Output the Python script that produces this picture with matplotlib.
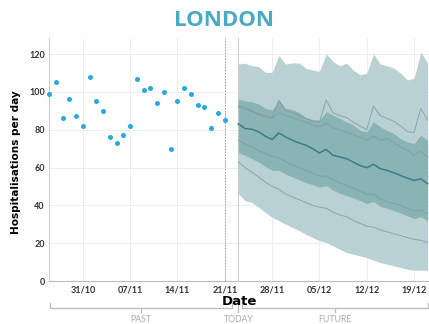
import numpy as np
import pandas as pd
import matplotlib
matplotlib.use("Agg")
import matplotlib.pyplot as plt
import matplotlib.dates as mdates
import matplotlib.transforms as mtransforms

# observed daily admissions
past_dates = pd.date_range("2021-10-26", "2021-11-21", freq="D")
past_values = [99, 105, 86, 96, 87, 82, 108, 95, 90, 76, 73, 77, 82, 107,
               101, 102, 94, 100, 70, 95, 102, 99, 93, 92, 81, 89, 85]

# forecast quantiles from today onwards
future_dates = pd.date_range("2021-11-23", "2021-12-21", freq="D")
q05 = [46.1, 42.5, 41.6, 39.0, 36.3, 33.7, 31.9, 30.1, 28.4, 26.6, 24.8, 23.0,
       21.3, 20.4, 18.6, 16.8, 15.1, 14.2, 13.3, 12.4, 11.0, 9.7, 8.9, 8.0,
       7.1, 6.2, 5.7, 5.7, 5.7]
q95 = [114.7, 115.2, 113.8, 113.4, 110.4, 110.4, 119.3, 114.7, 115.4, 115.2,
       112.5, 111.6, 110.8, 120.1, 116.1, 113.8, 115.2, 111.6, 109.0, 109.9,
       120.1, 114.7, 113.8, 112.5, 109.9, 106.3, 107.2, 121.0, 115.2]
q25 = [67.9, 66.5, 64.7, 62.9, 60.6, 58.5, 58.5, 56.5, 55.0, 53.5, 52.0, 51.0,
       49.6, 50.5, 48.0, 46.5, 45.2, 44.0, 42.5, 41.0, 42.0, 39.5, 38.5, 37.2,
       36.0, 34.5, 33.0, 34.0, 31.9]
q75 = [96.2, 95.2, 94.8, 93.6, 91.3, 90.4, 95.7, 91.3, 90.7, 89.0, 86.5, 85.4,
       85.1, 89.5, 87.7, 86.0, 84.2, 82.4, 79.7, 78.9, 84.2, 81.5, 79.7, 78.0,
       75.3, 73.5, 72.7, 77.1, 74.4]
median = [83.1, 80.6, 80.3, 78.9, 76.6, 74.8, 78.3, 76.2, 74.4, 73.0, 71.8,
          70.0, 67.7, 69.6, 66.5, 65.6, 64.7, 62.9, 61.1, 59.9, 61.7, 59.4,
          58.5, 57.2, 55.8, 54.4, 53.2, 54.0, 51.4]
q90 = [92.5, 92.0, 90.0, 88.5, 87.5, 86.5, 95.5, 90.0, 89.0, 87.5, 86.0, 84.5,
       84.0, 95.7, 89.0, 87.5, 86.5, 84.0, 82.0, 80.0, 92.5, 87.5, 86.0, 84.5,
       82.0, 79.0, 78.5, 91.3, 85.0]
q60 = [92.0, 91.0, 89.5, 88.0, 86.5, 86.0, 89.0, 87.5, 86.5, 85.0, 84.0, 82.5,
       81.5, 83.5, 81.0, 80.0, 78.5, 77.5, 76.0, 74.5, 76.5, 74.4, 75.3, 73.2,
       70.9, 69.1, 66.5, 68.6, 65.6]
q40 = [74.4, 72.5, 70.9, 69.0, 67.5, 66.0, 65.0, 63.0, 61.5, 60.0, 58.5, 57.0,
       55.5, 55.5, 53.5, 52.0, 50.5, 49.0, 47.5, 46.0, 46.0, 43.5, 42.0, 41.0,
       40.0, 38.5, 37.0, 37.5, 35.5]
q10 = [62.9, 60.0, 57.6, 55.0, 52.3, 50.0, 48.5, 46.0, 44.5, 43.0, 41.5, 40.0,
       39.0, 38.5, 36.5, 35.0, 34.0, 32.0, 30.5, 29.0, 28.5, 27.0, 26.0, 25.0,
       24.0, 23.0, 22.0, 21.5, 20.4]

tick_dates = pd.to_datetime(["2021-10-31", "2021-11-07", "2021-11-14", "2021-11-21",
                             "2021-11-28", "2021-12-05", "2021-12-12", "2021-12-19"])
last_obs = pd.Timestamp("2021-11-21")
today = pd.Timestamp("2021-11-23")

plt.rcParams["font.family"] = ["Lato", "DejaVu Sans"]

fig = plt.figure(figsize=(4.29, 3.24), dpi=100)
ax = fig.add_axes([0.1142, 0.1327, 0.8858, 0.75])

ax.fill_between(future_dates, q05, q95, color="#bad1d3", lw=0, zorder=2)
ax.fill_between(future_dates, q25, q75, color="#8ab3b5", lw=0, zorder=3)
for q in (q90, q60, q40, q10):
    ax.plot(future_dates, q, color="#7f9b9d", lw=0.7, alpha=0.8, zorder=4)
ax.plot(future_dates, median, color="#3b7e82", lw=1.1, zorder=5)

ax.scatter(past_dates, past_values, s=13, color="#2aa8e0", lw=0, zorder=6, clip_on=False)

ax.axvline(last_obs, color="#999999", lw=0.7, ls=(0, (1.5, 1.5)), zorder=1)
ax.axvline(today, color="#cccccc", lw=0.8, zorder=1)

ax.set_xlim(pd.Timestamp("2021-10-26"), pd.Timestamp("2021-12-21 05:00"))
ax.set_ylim(0, 128.5)
ax.set_yticks([0, 20, 40, 60, 80, 100, 120])
ax.set_xticks(tick_dates)
ax.xaxis.set_major_formatter(mdates.DateFormatter("%d/%m"))
ax.grid(True, color="#eeeeee", lw=0.7, zorder=0)
ax.set_axisbelow(True)
ax.tick_params(length=0, labelsize=6.5, colors="#333333", pad=3)
for lab in ax.get_xticklabels() + ax.get_yticklabels():
    lab.set_fontweight("bold")
for s in ("top", "right"):
    ax.spines[s].set_visible(False)
ax.spines["left"].set_color("#cccccc")
ax.spines["bottom"].set_color("#bbbbbb")
ax.spines["left"].set_linewidth(0.8)
ax.spines["bottom"].set_linewidth(0.8)

fig.text(0.038, 0.5, "Hospitalisations per day", fontsize=7.6, fontweight="bold",
         rotation=90, ha="center", va="center", family=["DejaVu Sans"])
fig.text(0.557, 0.07, "Date", fontsize=9.5, fontweight="bold", ha="center", va="center",
         family=["DejaVu Sans"])
fig.text(0.522, 0.938, "LONDON", fontsize=16, fontweight="bold", color="#48aac6",
         ha="center", va="center", family=["Open Sans", "DejaVu Sans"])

# past / today / future brackets under the axis
trans = mtransforms.blended_transform_factory(ax.transData, ax.transAxes)
bc = "#bbbbbb"


def bracket(x0, x1, label):
    xm = x0 + (x1 - x0) / 2
    ax.plot([x0, x0, x1, x1], [-0.092, -0.111, -0.111, -0.092], color=bc, lw=0.9,
            transform=trans, clip_on=False)
    ax.plot([xm, xm], [-0.111, -0.127], color=bc, lw=0.9, transform=trans, clip_on=False)
    ax.text(xm, -0.158, label, color="#aaaaaa", fontsize=6.3, ha="center", va="center",
            transform=trans)


bracket(pd.Timestamp("2021-10-26 03:00"), pd.Timestamp("2021-11-22"), "PAST")
bracket(pd.Timestamp("2021-11-23 12:00"), pd.Timestamp("2021-12-21 03:00"), "FUTURE")
ax.plot([today, today], [-0.092, -0.127], color=bc, lw=0.9, transform=trans, clip_on=False)
ax.text(today, -0.158, "TODAY", color="#aaaaaa", fontsize=6.3, ha="center", va="center",
        transform=trans)

fig.savefig("out.png", dpi=100)
